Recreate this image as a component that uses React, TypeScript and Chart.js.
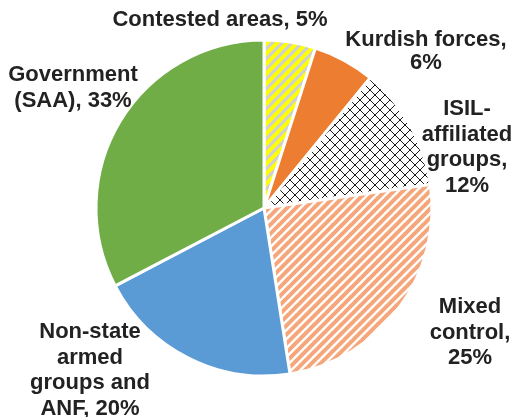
import React, { useEffect, useRef } from "react";
import { Chart, registerables } from "chart.js";

Chart.register(...registerables);

const categories = [
  "Contested areas",
  "Kurdish forces",
  "ISIL-affiliated groups",
  "Mixed control",
  "Non-state armed groups and ANF",
  "Government (SAA)",
];
const shares = [5, 6, 12, 25, 20, 33];
const labelLines = [
  ["Contested areas, 5%"],
  ["Kurdish forces,", "6%"],
  ["ISIL-", "affiliated", "groups,", "12%"],
  ["Mixed", "control,", "25%"],
  ["Non-state", "armed", "groups and", "ANF, 20%"],
  ["Government", "(SAA), 33%"],
];

function stripePattern(bg: string, fg: string, size: number, lw: number) {
  const c = document.createElement("canvas");
  c.width = size;
  c.height = size;
  const x = c.getContext("2d")!;
  x.fillStyle = bg;
  x.fillRect(0, 0, size, size);
  x.strokeStyle = fg;
  x.lineWidth = lw;
  x.lineCap = "square";
  for (const o of [-size, 0, size]) {
    x.beginPath();
    x.moveTo(o, size);
    x.lineTo(o + size, 0);
    x.stroke();
  }
  return x.createPattern(c, "repeat")!;
}

function crossPattern(size: number) {
  const c = document.createElement("canvas");
  c.width = size;
  c.height = size;
  const x = c.getContext("2d")!;
  x.fillStyle = "#ffffff";
  x.fillRect(0, 0, size, size);
  x.strokeStyle = "#1a1a1a";
  x.lineWidth = 1;
  for (const o of [-size, 0, size]) {
    x.beginPath();
    x.moveTo(o, size);
    x.lineTo(o + size, 0);
    x.stroke();
    x.beginPath();
    x.moveTo(o, 0);
    x.lineTo(o + size, size);
    x.stroke();
  }
  return x.createPattern(c, "repeat")!;
}

// label anchors (canvas px) — text placement only
const LABEL_POS = [
  [220, 20],
  [426, 40],
  [467, 109],
  [470, 307],
  [90, 332],
  [73, 75],
];

const labelPlugin = {
  id: "outerLabels",
  afterDraw(chart: any) {
    const ctx = chart.ctx;
    ctx.save();
    ctx.font = 'bold 22px "Liberation Sans", Arial, sans-serif';
    ctx.fillStyle = "#222222";
    ctx.textAlign = "center";
    ctx.textBaseline = "middle";
    labelLines.forEach((lines, i) => {
      const [px, py] = LABEL_POS[i];
      const lh = i === 1 ? 23 : 25.5;
      lines.forEach((t, j) => ctx.fillText(t, px, py + j * lh));
    });
    ctx.restore();
  },
};

export default function App() {
  const ref = useRef<HTMLCanvasElement>(null);
  useEffect(() => {
    const prevMargin = document.body.style.margin;
    const prevOverflow = document.body.style.overflow;
    document.body.style.margin = "0";
    document.body.style.overflow = "hidden";
    const colors = [
      stripePattern("#d0d0d0", "#ffff00", 10, 4),
      "#ED7D31",
      crossPattern(10),
      stripePattern("#ffffff", "#F5A67A", 9, 4),
      "#5B9BD5",
      "#70AD47",
    ];
    const chart = new Chart(ref.current!, {
      type: "pie",
      data: {
        labels: categories,
        datasets: [
          {
            data: shares,
            backgroundColor: colors as any,
            borderColor: "#ffffff",
            borderWidth: 3,
            radius: 168,
          } as any,
        ],
      },
      options: {
        animation: false,
        responsive: false,
        layout: { padding: { left: 12, right: 0, top: 0, bottom: 1 } },
        plugins: { legend: { display: false }, tooltip: { enabled: false } },
      },
      plugins: [labelPlugin],
    });
    return () => {
      chart.destroy();
      document.body.style.margin = prevMargin;
      document.body.style.overflow = prevOverflow;
    };
  }, []);
  return (
    <div style={{ width: 516, height: 417 }}>
      <canvas ref={ref} width={516} height={417} style={{ width: 516, height: 417, display: "block" }} />
    </div>
  );
}
